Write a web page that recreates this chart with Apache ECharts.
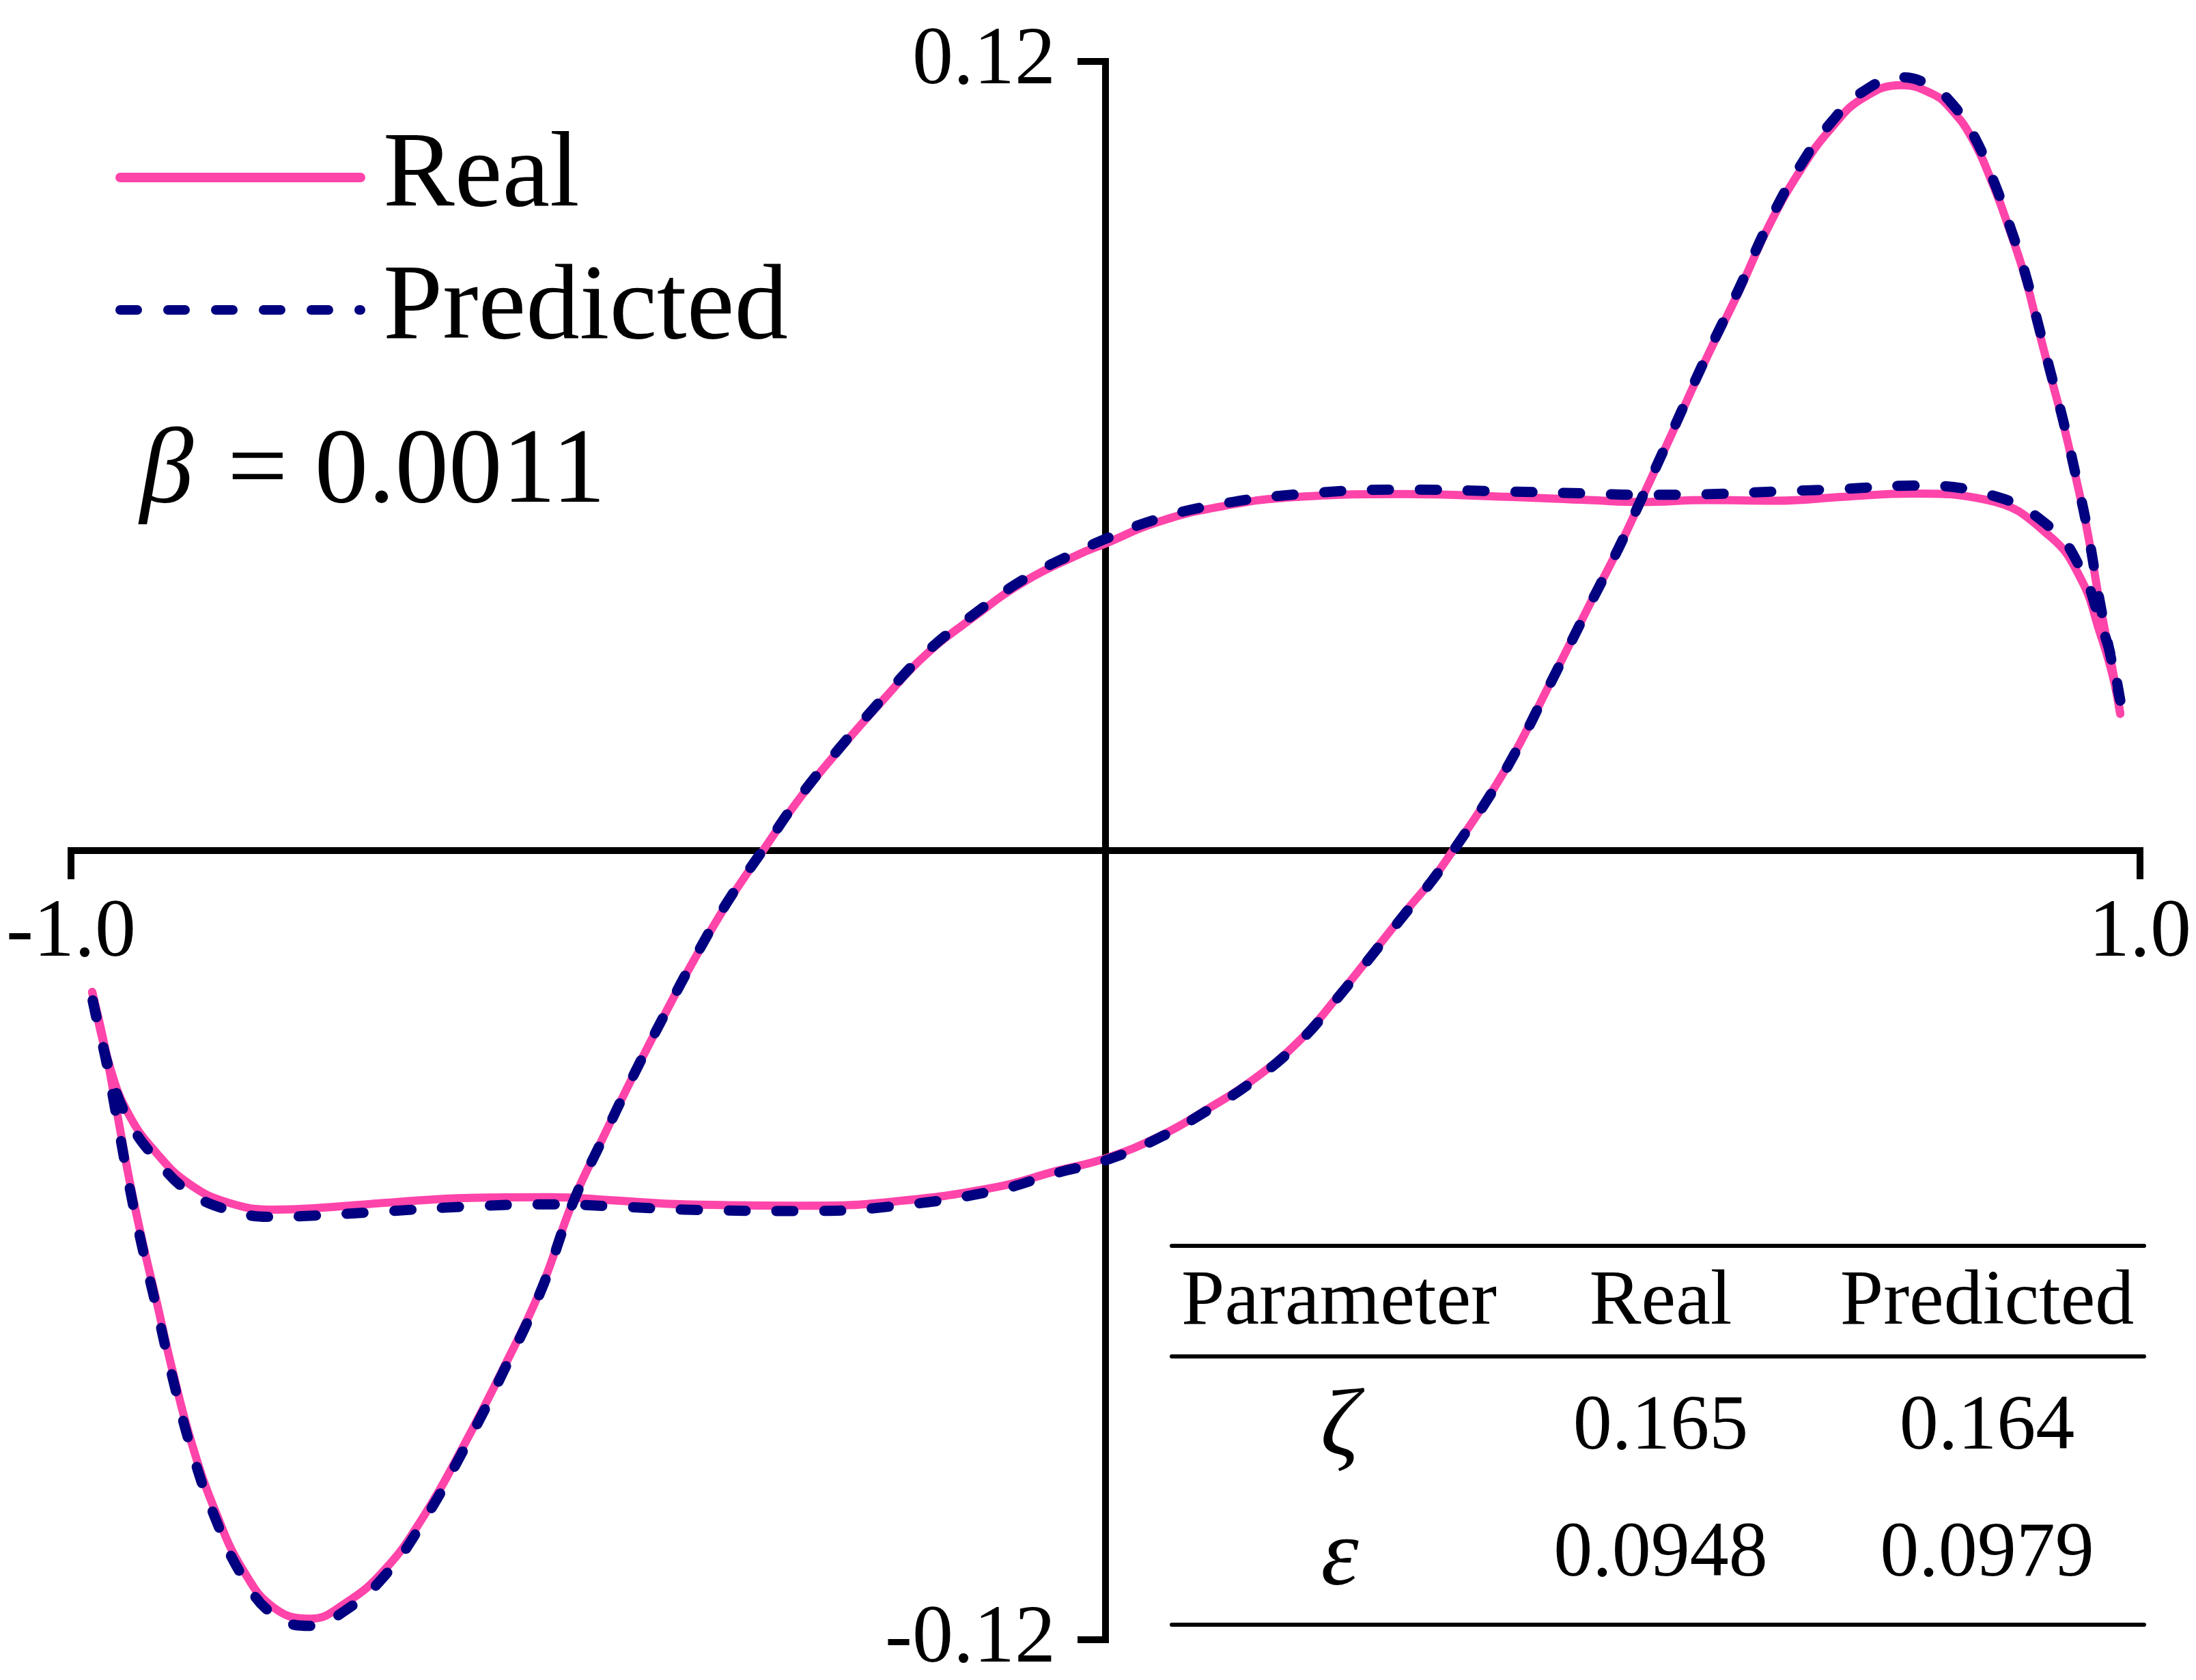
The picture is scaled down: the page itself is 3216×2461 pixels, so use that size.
<!DOCTYPE html>
<html>
<head>
<meta charset="utf-8">
<script src="https://cdn.jsdelivr.net/npm/echarts@6/dist/echarts.min.js"></script>
<style>
html,body{margin:0;padding:0;background:#ffffff;}
#chart{width:3216px;height:2461px;}
</style>
</head>
<body>
<div id="chart"></div>
<script>
// ---- tick labels ----
const xTickValues = [-1.0, 1.0];
const xTickLabels = ['-1.0', '1.0'];
const yTickValues = [-0.12, 0.12];
const yTickLabels = ['-0.12', '0.12'];

// ---- series names ----
const seriesNames = ['Real', 'Predicted'];

// ---- Real: branch A (left end -> minimum -> upper plateau -> right end) ----
const realA = [
  [-0.9795,-0.0215],[-0.9663,-0.0306],[-0.9551,-0.0402],[-0.9439,-0.0498],[-0.9320,-0.0587],
  [-0.9168,-0.0689],[-0.9017,-0.0792],[-0.8832,-0.0902],[-0.8601,-0.1006],[-0.8337,-0.1094],
  [-0.8033,-0.1152],[-0.7690,-0.1168],[-0.7353,-0.1145],[-0.6970,-0.1094],[-0.6594,-0.1013],
  [-0.6218,-0.0909],[-0.5835,-0.0792],[-0.5459,-0.0667],[-0.5149,-0.0534],[-0.4865,-0.0439],
  [-0.4548,-0.0337],[-0.4264,-0.0250],[-0.3987,-0.0169],[-0.3663,-0.0082],[-0.3307,0.0001],
  [-0.2944,0.0082],[-0.2587,0.0151],[-0.2145,0.0230],[-0.1743,0.0297],[-0.1267,0.0356],
  [-0.0785,0.0409],[-0.0264,0.0450],[0.0000,0.0467],[0.0475,0.0498],[0.1076,0.0522],
  [0.1875,0.0538],[0.2878,0.0542],[0.3875,0.0538],[0.4673,0.0533],[0.5175,0.0530],
  [0.5815,0.0533],[0.6475,0.0532],[0.7135,0.0538],[0.7802,0.0543],[0.8528,0.0533],
  [0.9129,0.0478],[0.9432,0.0412],[0.9611,0.0332],[0.9736,0.0266],[0.9809,0.0208]
];
// ---- Real: branch B (left end -> lower plateau -> maximum -> right end) ----
const realB = [
  [-0.9795,-0.0215],[-0.9624,-0.0329],[-0.9439,-0.0402],[-0.9168,-0.0461],[-0.8865,-0.0506],
  [-0.8488,-0.0535],[-0.8033,-0.0546],[-0.7657,-0.0544],[-0.6898,-0.0535],[-0.6139,-0.0528],
  [-0.5380,-0.0527],[-0.4746,-0.0532],[-0.4066,-0.0538],[-0.2865,-0.0540],[-0.2066,-0.0534],
  [-0.1063,-0.0512],[-0.0469,-0.0487],[0.0000,-0.0468],[0.0541,-0.0433],[0.0997,-0.0392],
  [0.1413,-0.0350],[0.1868,-0.0290],[0.2244,-0.0222],[0.2627,-0.0147],[0.2931,-0.0087],
  [0.3155,-0.0045],[0.3366,0.0002],[0.3677,0.0075],[0.3954,0.0148],[0.4277,0.0248],
  [0.4673,0.0372],[0.4957,0.0459],[0.5175,0.0532],[0.5472,0.0633],[0.5795,0.0744],
  [0.6119,0.0849],[0.6416,0.0951],[0.6719,0.1035],[0.7023,0.1100],[0.7320,0.1144],
  [0.7696,0.1164],[0.7987,0.1151],[0.8165,0.1129],[0.8376,0.1083],[0.8588,0.1009],
  [0.8739,0.0944],[0.8891,0.0871],[0.9010,0.0798],[0.9129,0.0726],[0.9254,0.0652],
  [0.9373,0.0572],[0.9492,0.0485],[0.9611,0.0376],[0.9736,0.0274],[0.9809,0.0208]
];
// ---- Predicted: branch A ----
const predA = [
  [-0.9790,-0.0228],[-0.9663,-0.0318],[-0.9551,-0.0412],[-0.9439,-0.0508],[-0.9320,-0.0597],
  [-0.9168,-0.0699],[-0.9017,-0.0802],[-0.8832,-0.0913],[-0.8601,-0.1017],[-0.8337,-0.1105],
  [-0.8033,-0.1163],[-0.7690,-0.1179],[-0.7353,-0.1156],[-0.6970,-0.1103],[-0.6594,-0.1020],
  [-0.6218,-0.0915],[-0.5835,-0.0797],[-0.5459,-0.0670],[-0.5149,-0.0536],[-0.4865,-0.0440],
  [-0.4548,-0.0337],[-0.4264,-0.0250],[-0.3987,-0.0168],[-0.3663,-0.0080],[-0.3307,0.0002],
  [-0.2944,0.0084],[-0.2587,0.0153],[-0.2145,0.0233],[-0.1743,0.0300],[-0.1267,0.0360],
  [-0.0785,0.0413],[-0.0264,0.0455],[0.0000,0.0474],[0.0475,0.0503],[0.1076,0.0526],
  [0.1875,0.0542],[0.2878,0.0549],[0.3875,0.0546],[0.4673,0.0543],[0.5175,0.0541],
  [0.5815,0.0542],[0.6475,0.0546],[0.7135,0.0550],[0.7802,0.0555],[0.8528,0.0542],
  [0.9129,0.0492],[0.9432,0.0427],[0.9611,0.0350],[0.9736,0.0286],[0.9809,0.0228]
];
// ---- Predicted: branch B ----
const predB = [
  [-0.9790,-0.0228],[-0.9624,-0.0336],[-0.9439,-0.0411],[-0.9168,-0.0471],[-0.8865,-0.0518],
  [-0.8488,-0.0546],[-0.8033,-0.0557],[-0.7657,-0.0555],[-0.6898,-0.0548],[-0.6139,-0.0541],
  [-0.5380,-0.0538],[-0.4746,-0.0541],[-0.4066,-0.0546],[-0.2865,-0.0548],[-0.2066,-0.0541],
  [-0.1063,-0.0517],[-0.0469,-0.0490],[0.0000,-0.0471],[0.0541,-0.0435],[0.0997,-0.0394],
  [0.1413,-0.0352],[0.1868,-0.0292],[0.2244,-0.0224],[0.2627,-0.0149],[0.2931,-0.0089],
  [0.3155,-0.0046],[0.3366,0.0001],[0.3677,0.0074],[0.3954,0.0147],[0.4277,0.0247],
  [0.4673,0.0371],[0.4957,0.0459],[0.5175,0.0533],[0.5472,0.0635],[0.5795,0.0747],
  [0.6119,0.0853],[0.6416,0.0956],[0.6719,0.1042],[0.7023,0.1109],[0.7320,0.1154],
  [0.7696,0.1176],[0.7987,0.1162],[0.8165,0.1139],[0.8376,0.1092],[0.8588,0.1017],
  [0.8739,0.0951],[0.8891,0.0877],[0.9010,0.0804],[0.9129,0.0731],[0.9254,0.0656],
  [0.9373,0.0575],[0.9492,0.0488],[0.9611,0.0379],[0.9736,0.0280],[0.9809,0.0228]
];

// ---- annotation and table ----
const betaSymbol = 'β';
const betaValue = '= 0.0011';
const tableHeader = ['Parameter', 'Real', 'Predicted'];
const paramSymbols = ['ζ', 'ε'];
const realParams = ['0.165', '0.0948'];
const predParams = ['0.164', '0.0979'];

// ---- styling ----
const FONT = 'Liberation Serif, Times New Roman, serif';
const PINK = '#ff44aa';
const NAVY = '#000080';

function pickLabel(v, vals, labels) {
  for (let i = 0; i < vals.length; i++) {
    if (Math.abs(v - vals[i]) < 1e-9) return labels[i];
  }
  return '';
}

const chart = echarts.init(document.getElementById('chart'), null, {renderer: 'canvas'});

// table graphics
const tableLeft = 1716, tableRight = 3140;
const tableLinesY = [1825, 1987, 2380];
const headerY = 1909;
const rowY = [2092, 2278];
const symY = [2094, 2284];
const colX = [1962, 2432, 2910];

const graphics = [];
tableLinesY.forEach(function (y) {
  graphics.push({
    type: 'line', z: 10,
    shape: {x1: tableLeft, y1: y, x2: tableRight, y2: y},
    style: {stroke: '#000', lineWidth: 6, lineCap: 'round'}
  });
});
tableHeader.forEach(function (t, i) {
  graphics.push({
    type: 'text', z: 10, x: i === 0 ? 1730 : colX[i], y: headerY,
    style: {text: t, fill: '#000', font: '114px ' + FONT,
      align: i === 0 ? 'left' : 'center', verticalAlign: 'middle',
      textAlign: i === 0 ? 'left' : 'center', textVerticalAlign: 'middle'}
  });
});
paramSymbols.forEach(function (s, r) {
  graphics.push({
    type: 'text', z: 10, x: colX[0], y: symY[r],
    style: {text: s, fill: '#000', font: 'italic 140px ' + FONT,
      align: 'center', verticalAlign: 'middle', textAlign: 'center', textVerticalAlign: 'middle'}
  });
  graphics.push({
    type: 'text', z: 10, x: colX[1], y: rowY[r],
    style: {text: realParams[r], fill: '#000', font: '114px ' + FONT,
      align: 'center', verticalAlign: 'middle', textAlign: 'center', textVerticalAlign: 'middle'}
  });
  graphics.push({
    type: 'text', z: 10, x: colX[2], y: rowY[r],
    style: {text: predParams[r], fill: '#000', font: '114px ' + FONT,
      align: 'center', verticalAlign: 'middle', textAlign: 'center', textVerticalAlign: 'middle'}
  });
});
graphics.push({
  type: 'text', z: 10, x: 205, y: 694,
  style: {text: betaSymbol, fill: '#000', font: 'italic 157px ' + FONT,
    align: 'left', verticalAlign: 'middle', textAlign: 'left', textVerticalAlign: 'middle'}
});
graphics.push({
  type: 'text', z: 10, x: 333, y: 694,
  style: {text: betaValue, fill: '#000', font: '157px ' + FONT,
    align: 'left', verticalAlign: 'middle', textAlign: 'left', textVerticalAlign: 'middle'}
});

function lineSeries(name, data, color, width, dashed) {
  return {
    name: name, type: 'line', data: data,
    showSymbol: false, symbol: 'none', smooth: 0.45,
    silent: true, clip: false,
    lineStyle: {color: color, width: width, type: dashed ? [25, 45] : 'solid',
      cap: 'round', join: 'round'},
    itemStyle: {color: color}
  };
}

const option = {
  animation: false,
  backgroundColor: '#ffffff',
  grid: {left: 104, right: 82, top: 90, bottom: 59, containLabel: false, outerBoundsMode: 'none'},
  xAxis: {
    type: 'value', min: -1, max: 1, interval: 1, position: 'bottom', offset: 0,
    axisLine: {show: true, onZero: false, lineStyle: {color: '#000', width: 10, cap: 'square'}},
    axisTick: {show: true, length: 42, lineStyle: {color: '#000', width: 10}},
    splitLine: {show: false},
    axisLabel: {show: true, margin: 62, color: '#000', fontFamily: FONT, fontSize: 120,
      showMinLabel: true, showMaxLabel: true, hideOverlap: false,
      formatter: function (v) { return pickLabel(v, xTickValues, xTickLabels); }}
  },
  yAxis: {
    type: 'value', min: -0.12, max: 0.12, interval: 0.12, position: 'left', offset: 0,
    axisLine: {show: true, onZero: false, lineStyle: {color: '#000', width: 10, cap: 'square'}},
    axisTick: {show: true, length: 41, lineStyle: {color: '#000', width: 10}},
    splitLine: {show: false},
    axisLabel: {show: true, margin: 73, color: '#000', fontFamily: FONT, fontSize: 120,
      showMinLabel: true, showMaxLabel: true, hideOverlap: false,
      formatter: function (v) { return pickLabel(v, yTickValues, yTickLabels); }}
  },
  legend: {
    orient: 'vertical', left: 169, top: 170, padding: 0,
    itemWidth: 352, itemHeight: 14, itemGap: 14,
    selectedMode: false,
    data: seriesNames,
    textStyle: {fontFamily: FONT, fontSize: 157, color: '#000', lineHeight: 180, padding: [0, 0, 0, 28]},
    lineStyle: {width: 14, cap: 'round'},
    itemStyle: {opacity: 0}
  },
  graphic: {elements: graphics},
  series: [
    lineSeries(seriesNames[0], realA, PINK, 12, false),
    lineSeries(seriesNames[0], realB, PINK, 12, false),
    lineSeries(seriesNames[1], predA, NAVY, 15, true),
    lineSeries(seriesNames[1], predB, NAVY, 15, true)
  ]
};
chart.setOption(option);

// Move both axes onto the zero lines of each other, using the library's own scales.
const zero = chart.convertToPixel({gridIndex: 0}, [0, 0]);
const gridRect = chart.getModel().getComponent('grid', 0).coordinateSystem.getRect();
chart.setOption({
  xAxis: {offset: zero[1] - (gridRect.y + gridRect.height)},
  yAxis: {offset: gridRect.x - zero[0]}
});
</script>
</body>
</html>
